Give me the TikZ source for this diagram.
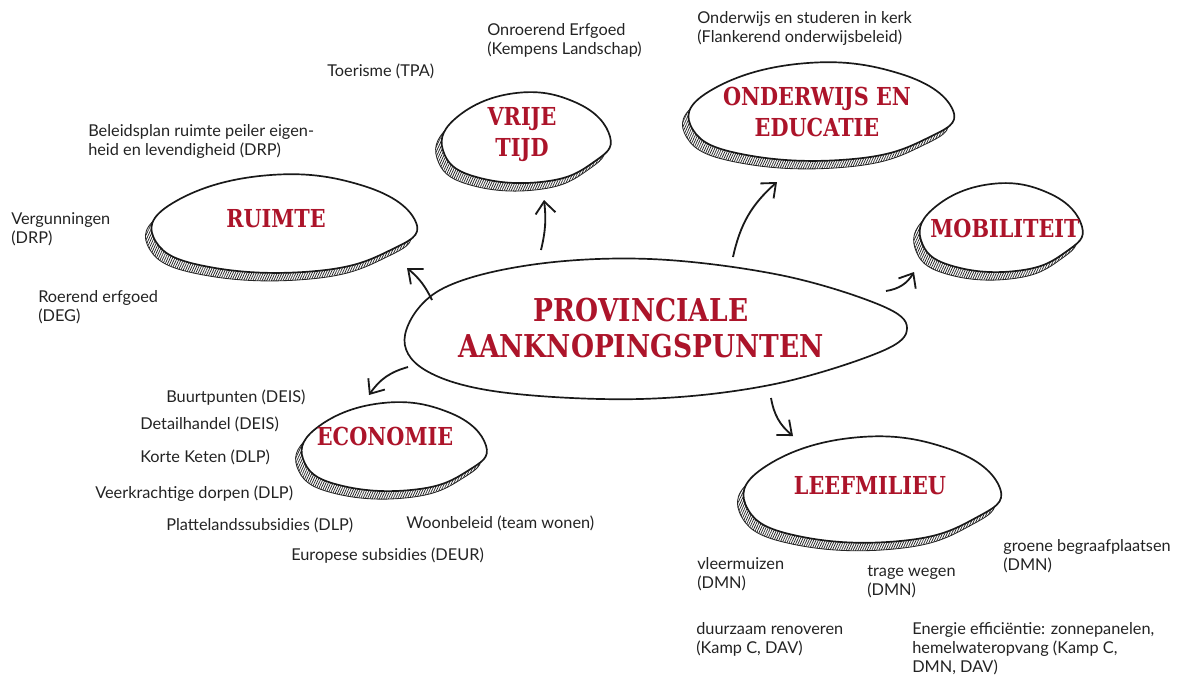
\documentclass[tikz,border=0pt]{standalone}
\usepackage{fontspec}
\setmainfont{Lato}
\newfontfamily\slabfont{DejaVu Serif}[FakeStretch=0.84]
\usetikzlibrary{arrows.meta,patterns.meta}
\definecolor{titlered}{RGB}{172,20,42}
\definecolor{inkgrey}{RGB}{35,35,35}

\newcommand\blobline[5]{%
\path[#5] plot[smooth cycle, tension=0.75] coordinates {({#1+1.00*#3},{#2-0.03*#4}) ({#1+0.80*#3},{#2+0.52*#4}) ({#1+0.25*#3},{#2+0.92*#4}) ({#1-0.55*#3},{#2+0.85*#4}) ({#1-0.97*#3},{#2+0.35*#4}) ({#1-0.85*#3},{#2-0.40*#4}) ({#1-0.15*#3},{#2-0.95*#4}) ({#1+0.60*#3},{#2-0.75*#4})};}
\newcommand\blob[4]{%
\blobline{#1}{#2}{#3}{#4}{hatch, shift={(-6,8)}}
\blobline{#1}{#2}{#3}{#4}{rim}}

\begin{document}
\begin{tikzpicture}[x=0.025cm, y=-0.025cm,
  hatch/.style={draw=black!85, line width=0.6pt, pattern={Lines[angle=65,distance=1.5pt,line width=0.55pt]}, pattern color=black!85},
  rim/.style={draw=black!90, line width=1.2pt, fill=white},
  title/.style={text=titlered, font=\slabfont\bfseries\fontsize{17.6}{22.5}\selectfont, align=center, inner sep=0pt},
  note/.style={text=inkgrey, font=\fontsize{11.6}{13.2}\selectfont, align=left, anchor=base west, inner sep=0pt},
  arr/.style={draw=black!90, line width=1.3pt, -{Straight Barb[length=3mm,width=5mm]}}]
\useasboundingbox (0,0) rectangle (1181,678);

\blob{284}{224}{132}{51}
\blob{526}{138}{84}{47}
\blob{821}{112}{132}{51}
\blob{1001}{228}{81}{46}
\blob{394}{447}{92}{46}
\blob{872}{490}{128}{55}
\draw[rim] plot[smooth cycle, tension=0.6] coordinates {(405,335) (440,290) (530,265) (650,259) (780,275) (880,305) (907,328) (880,352) (770,385) (640,399) (500,392) (425,370)};

\node[title, font=\slabfont\bfseries\fontsize{22.4}{25.6}\selectfont] (prov) at (641,328) {PROVINCIALE\\AANKNOPINGSPUNTEN};
\node[title] (ruimte) at (276,218.5) {RUIMTE};
\node[title] (vrije) at (522,134.5) {VRIJE\\TIJD};
\node[title] (onderwijs) at (817,112) {ONDERWIJS EN\\EDUCATIE};
\node[title] (mobil) at (1005,228.5) {MOBILITEIT};
\node[title] (econ) at (385,436.5) {ECONOMIE};
\node[title] (leef) at (870,486) {LEEFMILIEU};

\node[note] (onroerend) at (487,54) {Onroerend Erfgoed\\(Kempens Landschap)};
\node[note] (toerisme) at (327,76) {Toerisme (TPA)};
\node[note] (kerk) at (697,42) {Onderwijs en studeren in kerk\\(Flankerend onderwijsbeleid)};
\node[note] (beleidsplan) at (88,155) {Beleidsplan ruimte peiler eigen-\\heid en levendigheid (DRP)};
\node[note] (vergunning) at (11,243) {Vergunningen\\(DRP)};
\node[note] (roerend) at (38,321) {Roerend erfgoed\\(DEG)};
\node[note] (buurt) at (166,402) {Buurtpunten (DEIS)};
\node[note] (detail) at (140,429) {Detailhandel (DEIS)};
\node[note] (keten) at (140,462) {Korte Keten (DLP)};
\node[note] (dorpen) at (95,498) {Veerkrachtige dorpen (DLP)};
\node[note] (platteland) at (166,530) {Plattelandssubsidies (DLP)};
\node[note] (woon) at (406,528) {Woonbeleid (team wonen)};
\node[note] (europa) at (291,560) {Europese subsidies (DEUR)};
\node[note] (vleermuis) at (697,588) {vleermuizen\\(DMN)};
\node[note] (trage) at (867,595) {trage wegen\\(DMN)};
\node[note] (groen) at (1003,570) {groene begraafplaatsen\\(DMN)};
\node[note] (renoveren) at (696,653) {duurzaam renoveren\\(Kamp C, DAV)};
\node[note] (energie) at (912,672) {Energie efficiëntie: zonnepanelen,\\hemelwateropvang (Kamp C,\\DMN, DAV)};

\coordinate (p-ruimte) at (432,300);
\coordinate (ruimte-in) at (407,268);
\coordinate (p-vrije) at (541,250);
\coordinate (vrije-in) at (544,200);
\coordinate (p-onderwijs) at (733,257);
\coordinate (onderwijs-in) at (777,182);
\coordinate (p-mobil) at (886,291);
\coordinate (mobil-in) at (914,272);
\coordinate (p-econ) at (408,367);
\coordinate (econ-in) at (369,395);
\coordinate (p-leef) at (771,398);
\coordinate (leef-in) at (793,436);

\draw[arr] (p-ruimte) to[bend right=12] (ruimte-in);
\draw[arr] (p-vrije) to[bend right=10] (vrije-in);
\draw[arr] (p-onderwijs) to[bend left=18] (onderwijs-in);
\draw[arr] (p-mobil) to[bend right=25] (mobil-in);
\draw[arr] (p-econ) to[bend right=20] (econ-in);
\draw[arr] (p-leef) to[bend right=20] (leef-in);
\end{tikzpicture}
\end{document}
